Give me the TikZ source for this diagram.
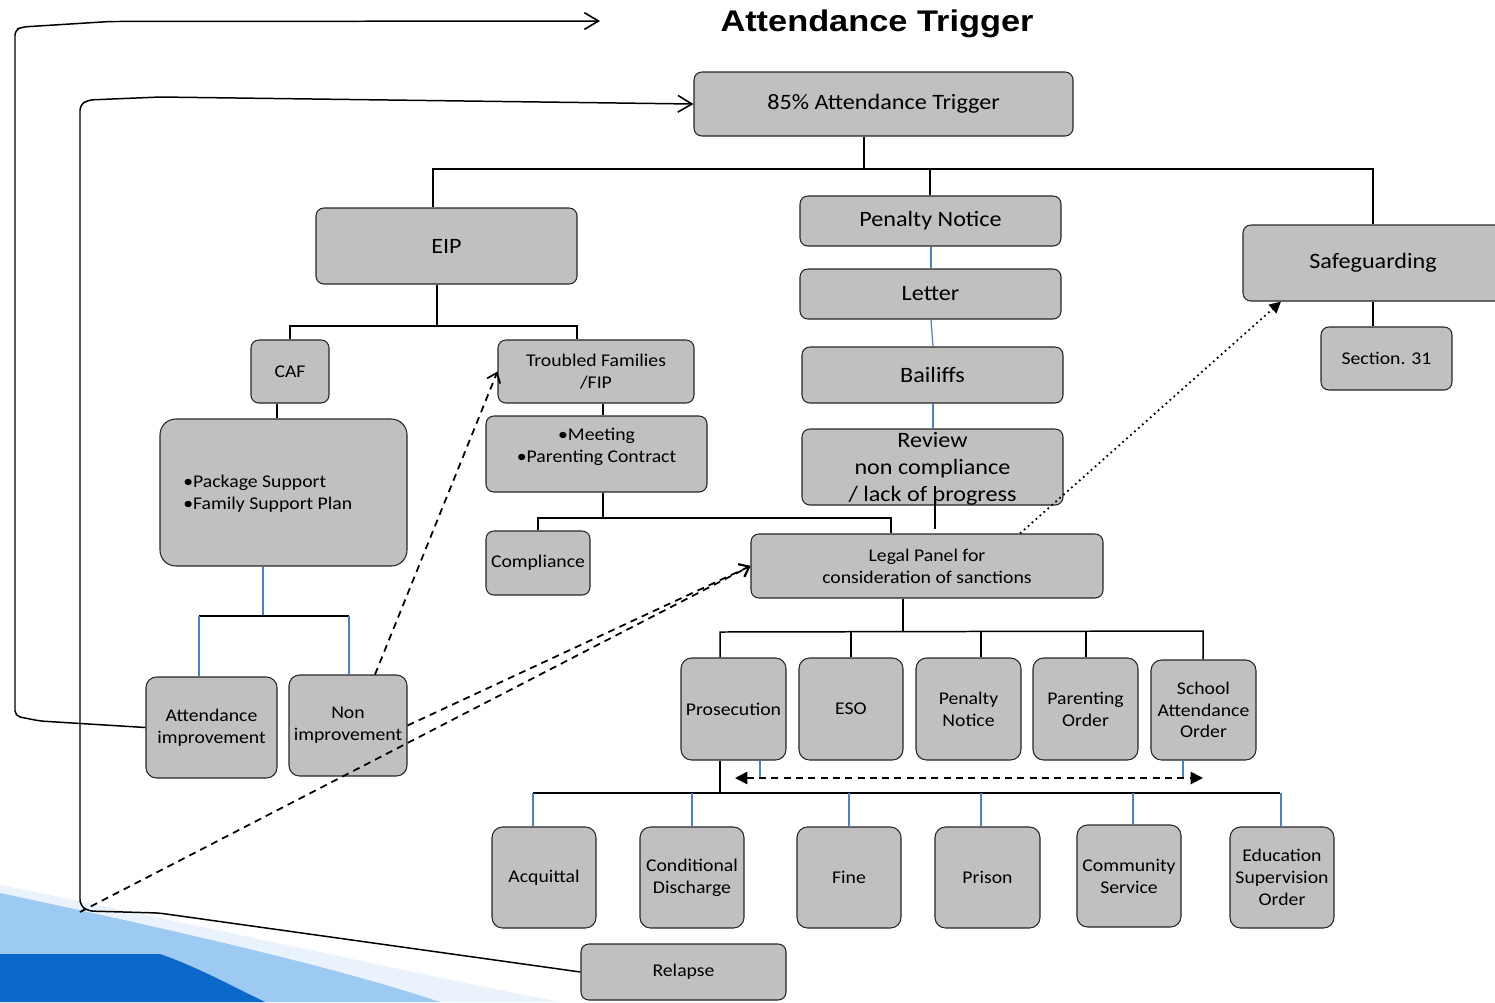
\documentclass[tikz,border=0pt]{standalone}
\usepackage{fontspec}
\setmainfont{Carlito}[FakeStretch=1.1]
\newfontfamily\titlefont{Liberation Sans}[FakeStretch=1.15]
\usetikzlibrary{arrows.meta}
\definecolor{boxgray}{HTML}{C0C0C0}
\definecolor{linkblue}{HTML}{4F81BD}
\definecolor{swoopdark}{HTML}{0B67C8}
\definecolor{swooplight}{HTML}{9CCAF2}
\definecolor{swooppale}{HTML}{EAF3FC}
\tikzset{
  box/.style={draw=black!85, fill=boxgray, rounded corners=4.5pt, inner sep=0pt, align=center, line width=0.6pt},
  wh/.style 2 args={minimum width=#1*0.02cm, minimum height=#2*0.02cm},
  bigtxt/.style={font=\fontsize{12.5}{15.3}\selectfont},
  smalltxt/.style={font=\fontsize{10.2}{12.4}\selectfont},
  link/.style={line width=0.85pt},
  bluelink/.style={draw=linkblue, line width=0.7pt},
  dashlink/.style={dashed, dash pattern=on 4pt off 3pt, line width=1pt},
  openhead/.style={-{Straight Barb[length=5pt,width=8pt,line width=1pt]}},
  loophead/.style={-{Straight Barb[length=8pt,width=9.5pt,line width=0.9pt]}}
}
\begin{document}
\begin{tikzpicture}[x=0.02cm, y=-0.02cm]
\useasboundingbox (0,0) rectangle (1495,1002);

% background swoosh
\fill[swooppale] (0,885) .. controls (200,925) and (420,975) .. (560,1002) -- (0,1002) -- cycle;
\fill[swooplight] (0,893) .. controls (150,925) and (330,965) .. (440,1002) -- (0,1002) -- cycle;
\fill[swoopdark] (0,954) -- (160,954) .. controls (195,966) and (230,985) .. (265,1002) -- (0,1002) -- cycle;

\node[font=\fontsize{17}{20}\titlefont\bfseries] (title) at (877,24) {Attendance Trigger};

\node[box, wh={379}{64}, bigtxt] (trig) at (883.5,104) {85\% Attendance Trigger};
\node[box, wh={261}{76}, bigtxt] (eip) at (446.5,246) {EIP};
\node[box, wh={261}{50}, bigtxt] (pn) at (930.5,221) {Penalty Notice};
\node[box, wh={261}{50}, bigtxt] (letter) at (930.5,294) {Letter};
\node[box, wh={261}{56}, bigtxt] (bail) at (932.5,375) {Bailiffs};
\node[box, wh={261}{76}] (review) at (932.5,467) {};
\node[bigtxt, align=center, inner sep=0pt] (reviewtxt) at (932.5,469) {Review\\non compliance\\/ lack of progress};
\node[box, wh={260}{76}, bigtxt] (safe) at (1373,263) {Safeguarding};
\node[box, wh={131}{63}, smalltxt] (sec) at (1386.5,358.5) {Section. 31};

\node[box, wh={78}{63}, smalltxt] (caf) at (290,371.5) {CAF};
\node[box, wh={196}{63}, smalltxt] (tf) at (596,371.5) {Troubled Families\\/FIP};
\node[box, wh={221}{76}] (meet) at (596.5,454) {};
\node[smalltxt, align=center, inner sep=0pt] (meettxt) at (596.5,447) {•Meeting\\•Parenting Contract};
\node[box, wh={247}{147}, rounded corners=9pt] (pkg) at (283.5,492.5) {};
\node[smalltxt, align=left, inner sep=0pt, anchor=west] (pkgtxt) at (183,493.5) {•Package Support\\•Family Support Plan};
\node[box, wh={104}{64}, smalltxt] (comp) at (538,563) {Compliance};
\node[box, wh={352}{64}, smalltxt] (legal) at (927,566) {Legal Panel for\\consideration of sanctions};

\node[box, wh={131}{101}, smalltxt, rounded corners=6pt] (attimp) at (211.5,727.5) {Attendance\\improvement};
\node[box, wh={118}{101}, smalltxt, rounded corners=6pt] (nonimp) at (348,725.5) {Non\\improvement};

\node[box, wh={105}{102}, smalltxt, rounded corners=6pt] (pros) at (733.5,709) {Prosecution};
\node[box, wh={104}{102}, smalltxt, rounded corners=6pt] (eso) at (851,709) {ESO};
\node[box, wh={105}{102}, smalltxt, rounded corners=6pt] (pn2) at (968.5,709) {Penalty\\Notice};
\node[box, wh={105}{102}, smalltxt, rounded corners=6pt] (po) at (1085.5,709) {Parenting\\Order};
\node[box, wh={105}{100}, smalltxt, rounded corners=6pt] (sao) at (1203.5,710) {School\\Attendance\\Order};

\node[box, wh={104}{101}, smalltxt, rounded corners=6pt] (acq) at (544,877.5) {Acquittal};
\node[box, wh={104}{101}, smalltxt, rounded corners=6pt] (cd) at (692,877.5) {Conditional\\Discharge};
\node[box, wh={104}{101}, smalltxt, rounded corners=6pt] (fine) at (849,877.5) {Fine};
\node[box, wh={105}{101}, smalltxt, rounded corners=6pt] (prison) at (987.5,877.5) {Prison};
\node[box, wh={104}{102}, smalltxt, rounded corners=6pt] (cs) at (1129,876) {Community\\Service};
\node[box, wh={104}{101}, smalltxt, rounded corners=6pt] (edu) at (1282,877.5) {Education\\Supervision\\Order};
\node[box, wh={205}{56}, smalltxt] (relapse) at (683.5,972) {Relapse};

% top tree
\draw[link] (trig.south -| 864,0) -- (864,169);
\draw[link] (eip.north -| 433,0) -- (433,169) -- (1373,169) -- (safe.north);
\draw[link] (930,169) -- (pn.north -| 930,0);
\draw[link] (safe.south) -- (sec.north -| 1373,0);

% EIP branch
\draw[link] (eip.south -| 437,0) -- (437,326);
\draw[link] (caf.north) -- (290,326) -- (577,326) -- (tf.north -| 577,0);
\draw[link] (caf.south -| 277,0) -- (pkg.north -| 277,0);
\draw[link] (tf.south -| 603,0) -- (meet.north -| 603,0);
\draw[link] (meet.south -| 603,0) -- (603,518);
\draw[link] (comp.north) -- (538,518) -- (891,518) -- (legal.north -| 891,0);
\draw[bluelink] (pkg.south -| 263,0) -- (263,616);
\draw[link] (199,616) -- (349,616);
\draw[bluelink] (199,616) -- (attimp.north -| 199,0);
\draw[bluelink] (349,616) -- (nonimp.north -| 349,0);

% penalty chain
\draw[bluelink] (pn.south -| 931,0) -- (letter.north -| 931,0);
\draw[bluelink] (letter.south -| 931,0) -- (bail.north -| 933,0);
\draw[bluelink] (bail.south -| 933,0) -- (review.north -| 933,0);
\draw[link] (review.south -| 935,0) ++(0,-20) -- ++(0,43);

% sanctions
\draw[link] (legal.south -| 903,0) -- (903,632);
\draw[link] (pros.north -| 720,0) -- (720,632) -- (1203,631) -- (sao.north -| 1203,0);
\foreach \n/\x in {eso/851, pn2/981, po/1086}
  \draw[link] (\x,632) -- (\n.north -| \x,0);
\draw[link] (pros.south -| 720,0) -- (720,793);
\draw[link] (533,793) -- (1280,793);
\foreach \n/\x in {acq/533, cd/692, fine/849, prison/981, cs/1133, edu/1281}
  \draw[bluelink] (\x,793) -- (\n.north -| \x,0);

\coordinate (dl) at (735,778);
\coordinate (dr) at (1203,778);
\draw[bluelink] (pros.south -| 760,0) -- (760,778);
\draw[bluelink] (sao.south -| 1183,0) -- (1183,778);
\draw[dashlink, {Triangle[length=7pt,width=7pt]}-{Triangle[length=7pt,width=7pt]}] (dl) -- (dr);

% loops back
\coordinate (loopend) at (600,21);
\coordinate (bend) at (80,912);
\draw[link, loophead, rounded corners=3pt] (attimp.west) -- (40,721) -- (15,716) -- (15,30) -- (22,27) -- (110,21.5) -- (loopend);
\draw[link, loophead, rounded corners=3pt] (relapse.west) -- (159,913) -- (88,911) -- (80,905) -- (80,105) -- (88,100) -- (160,97) -- (trig.west);

% escalation
\draw[dashlink, openhead] (nonimp.north -| 375,0) -- (tf.west);
\draw[dashlink, openhead] (nonimp.east) -- (legal.west);
\draw[dashlink, openhead] (bend) -- (legal.west);
\draw[dotted, line width=1pt, -{Triangle[length=6.5pt,width=6.5pt]}] (legal.north -| 1020,0) -- (safe.south -| 1281,0);
\end{tikzpicture}
\end{document}
